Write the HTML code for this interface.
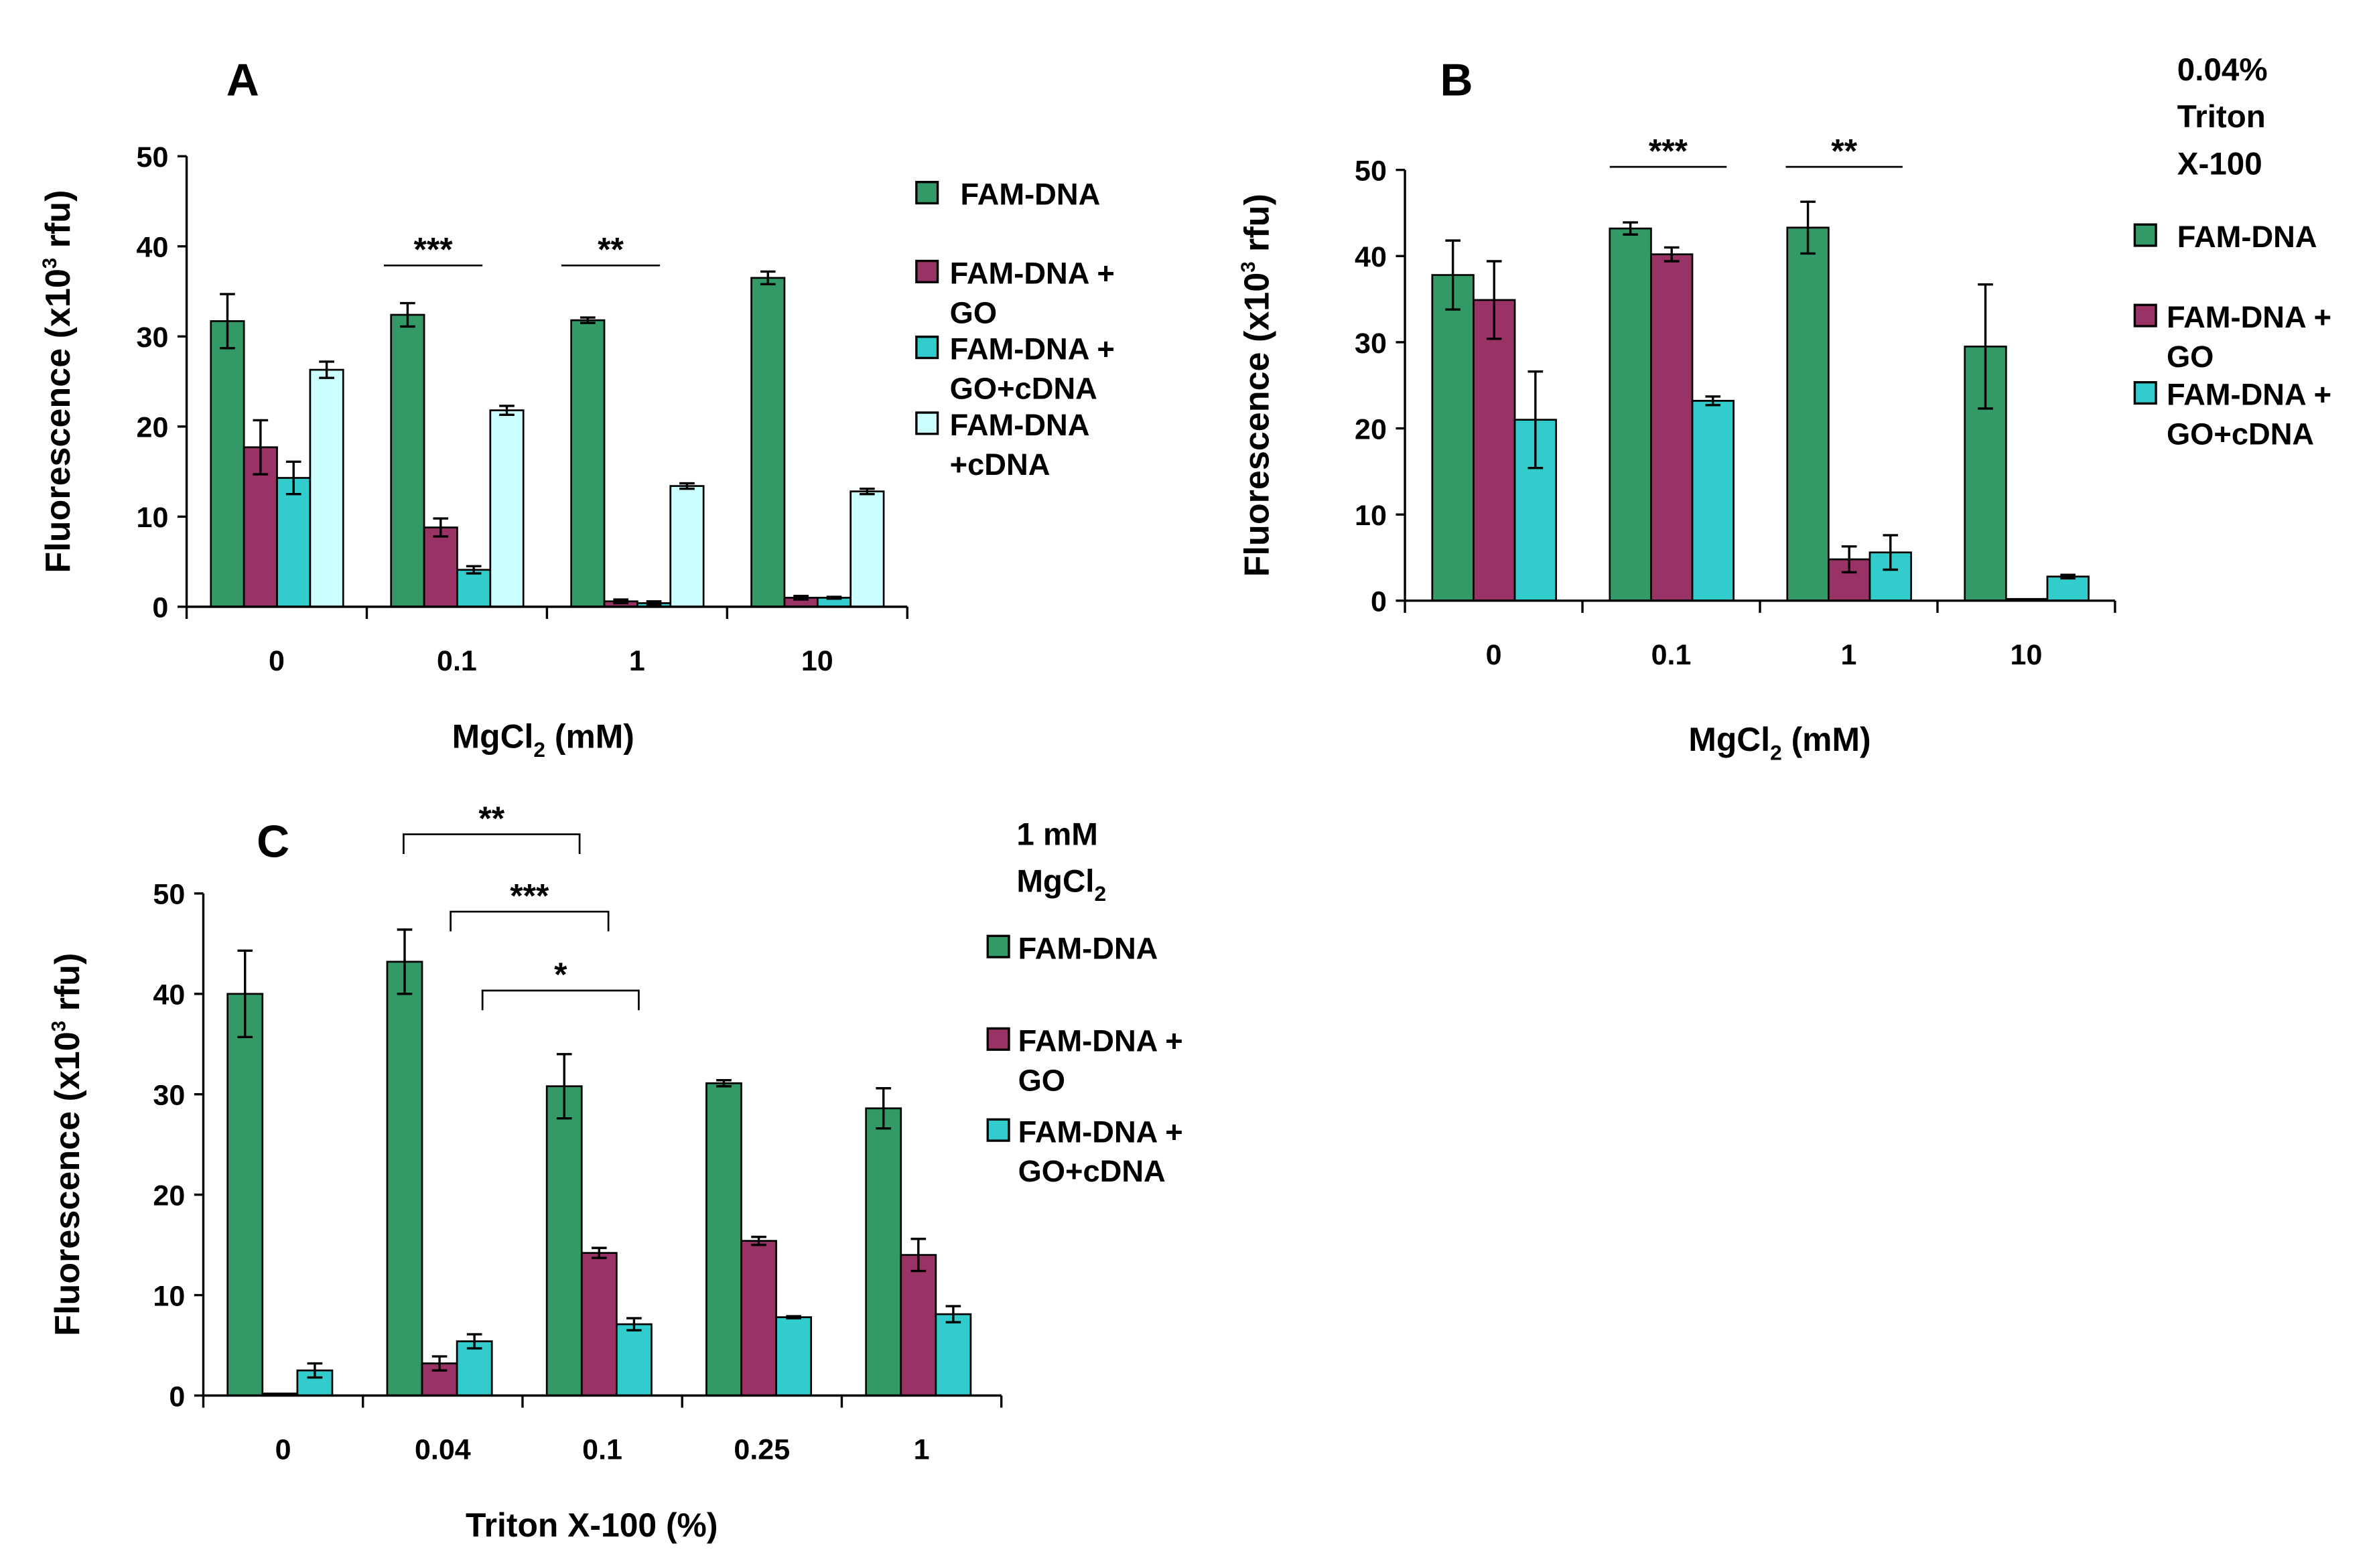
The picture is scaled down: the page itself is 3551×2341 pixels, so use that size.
<!DOCTYPE html>
<html><head><meta charset="utf-8"><style>
html,body{margin:0;padding:0;background:#fff;}
svg{display:block;font-family:"Liberation Sans",Arial,sans-serif;font-weight:bold;}
</style></head><body>
<svg id="fig" width="3551" height="2341" viewBox="0 0 1568 1033.7" preserveAspectRatio="none" xmlns="http://www.w3.org/2000/svg">
<rect x="0" y="0" width="1568" height="1034" fill="#fff"/>
<g id="chartA"></g>
<g id="chartB"></g>
<g id="chartC"></g>
</svg>
<script>
// Panel A data
const catsA = ["0","0.1","1","10"];
const aFam = [31.7,32.4,31.8,36.5];
const aFamErr = [3.0,1.3,0.3,0.7];
const aGO = [17.7,8.8,0.6,1.0];
const aGOErr = [3.0,1.0,0.2,0.2];
const aGOc = [14.3,4.1,0.4,1.0];
const aGOcErr = [1.8,0.4,0.2,0.1];
const aC = [26.3,21.8,13.4,12.8];
const aCErr = [0.9,0.5,0.3,0.3];
// Panel B data
const catsB = ["0","0.1","1","10"];
const bFam = [37.8,43.2,43.3,29.5];
const bFamErr = [4.0,0.7,3.0,7.2];
const bGO = [34.9,40.2,4.8,0.2];
const bGOErr = [4.5,0.8,1.5,0];
const bGOc = [21.0,23.2,5.6,2.8];
const bGOcErr = [5.6,0.5,2.0,0.2];
// Panel C data
const catsC = ["0","0.04","0.1","0.25","1"];
const cFam = [40.0,43.2,30.8,31.1,28.6];
const cFamErr = [4.3,3.2,3.2,0.3,2.0];
const cGO = [0.2,3.2,14.2,15.4,14.0];
const cGOErr = [0,0.7,0.5,0.4,1.6];
const cGOc = [2.5,5.4,7.1,7.8,8.1];
const cGOcErr = [0.7,0.7,0.6,0.1,0.8];
const yTicks = [0,10,20,30,40,50];

const NS="http://www.w3.org/2000/svg";
function mk(parent,tag,attrs,text){
  const e=document.createElementNS(NS,tag);
  for(const k in attrs) e.setAttribute(k,attrs[k]);
  if(text!==undefined) e.textContent=text;
  parent.appendChild(e); return e;
}
const COLORS=["#339966","#993366","#33CCCC","#CCFFFF"];
const SER_NAMES=["fam-dna","fam-dna-go","fam-dna-go-cdna","fam-dna-cdna"];

function panel(g,cfg){
  const {x0,x1,y0,y50,cats,series,errs,barW,pad}=cfg;
  const ys=v=>y0-(v/50)*(y0-y50);
  const catW=(x1-x0)/cats.length;
  const xb=(i,s)=>x0+i*catW+pad+s*barW;
  series.forEach((arr,s)=>{
    arr.forEach((v,i)=>{
      const r=mk(g,"rect",{x:xb(i,s),y:ys(v),width:barW,height:y0-ys(v),fill:COLORS[s],stroke:"#000","stroke-width":1.2});
      
      
      const e=errs[s][i];
      if(e>0){
        const cx=xb(i,s)+barW/2;
        const eb=mk(g,"path",{d:`M${cx},${ys(v+e)}V${ys(v-e)}M${cx-5},${ys(v+e)}h10M${cx-5},${ys(v-e)}h10`,stroke:"#000","stroke-width":1.5,fill:"none"});
        
        
      }
    });
  });
  const ax=mk(g,"path",{d:`M${x0},${y50}V${y0}H${x1}`,stroke:"#000","stroke-width":1.5,fill:"none"});
  
  
  yTicks.forEach(t=>{
    mk(g,"line",{x1:x0-6,x2:x0,y1:ys(t),y2:ys(t),stroke:"#000","stroke-width":1.5});
    const tl=mk(g,"text",{x:x0-12,y:ys(t)+7,"text-anchor":"end","font-size":19},String(t));
    
    
  });
  for(let i=0;i<=cats.length;i++){
    mk(g,"line",{x1:x0+i*catW,x2:x0+i*catW,y1:y0,y2:y0+8,stroke:"#000","stroke-width":1.5});
  }
  cats.forEach((c,i)=>{
    const tl=mk(g,"text",{x:x0+(i+0.5)*catW,y:y0+42,"text-anchor":"middle","font-size":19},c);
    
    
  });
  const cy=(y0+y50)/2;
  const yt=mk(g,"text",{x:0,y:0,"text-anchor":"middle","font-size":23,transform:`translate(${cfg.ytx},${cy}) rotate(-90)`});
  yt.innerHTML='Fluorescence (x10<tspan dy="-9" font-size="13">3</tspan><tspan dy="9"> rfu)</tspan>';
  
  
  const xt=mk(g,"text",{x:cfg.xtx,y:cfg.xty,"text-anchor":"middle","font-size":22});
  xt.innerHTML=cfg.xtitle;
  
  
  const lt=mk(g,"text",{x:cfg.letter[0],y:cfg.letter[1],"font-size":30,"text-anchor":"middle"},cfg.letter[2]);
  
  
  cfg.legend.forEach((L,s)=>{
    const lg=mk(g,"g",{});
    
    
    mk(lg,"rect",{x:cfg.lx,y:L.y-8,width:14,height:14,fill:COLORS[s],stroke:"#000","stroke-width":1.5});
    L.lines.forEach((t,k)=>mk(lg,"text",{x:cfg.ltx+((L.lines.length===1)?(cfg.lfirst||0):0),y:L.y+7+k*26,"font-size":20},t));
  });
  cfg.sig.forEach(S=>{
    const sg=mk(g,"g",{});
    
    
    const d=S.bracket?`M${S.a},${S.y+13}V${S.y}H${S.b}V${S.y+13}`:`M${S.a},${S.y}H${S.b}`;
    mk(sg,"path",{d,stroke:"#000","stroke-width":1.2,fill:"none"});
    mk(sg,"text",{x:(S.a+S.b)/2,y:S.y-3,"text-anchor":"middle","font-size":22},S.t);
  });
}

panel(document.getElementById("chartA"),{
  x0:123,x1:598,y0:400,y50:103,cats:catsA,barW:21.8,pad:16,
  series:[aFam,aGO,aGOc,aC],errs:[aFamErr,aGOErr,aGOcErr,aCErr],
  ytx:46,xtx:358,xty:493,xtitle:'MgCl<tspan font-size="14" dy="6">2</tspan><tspan dy="-6"> (mM)</tspan>',
  letter:[160,63,"A"],lx:604,ltx:626,lfirst:7,
  legend:[{y:128,lines:["FAM-DNA"]},{y:180,lines:["FAM-DNA +","GO"]},{y:230,lines:["FAM-DNA +","GO+cDNA"]},{y:280,lines:["FAM-DNA","+cDNA"]}],
  sig:[{a:253,b:318,y:175,t:"***"},{a:370,b:435,y:175,t:"**"}]
});
panel(document.getElementById("chartB"),{
  x0:926,x1:1394,y0:396,y50:112,cats:catsB,barW:27.2,pad:18,
  series:[bFam,bGO,bGOc],errs:[bFamErr,bGOErr,bGOcErr],
  ytx:836,xtx:1173,xty:495,xtitle:'MgCl<tspan font-size="14" dy="6">2</tspan><tspan dy="-6"> (mM)</tspan>',
  letter:[960,63,"B"],lx:1407,ltx:1428,lfirst:7,
  legend:[{y:156,lines:["FAM-DNA"]},{y:209,lines:["FAM-DNA +","GO"]},{y:260,lines:["FAM-DNA +","GO+cDNA"]}],
  sig:[{a:1061,b:1138,y:110,t:"***"},{a:1177,b:1254,y:110,t:"**"}]
});
panel(document.getElementById("chartC"),{
  x0:134,x1:660,y0:920,y50:589,cats:catsC,barW:23,pad:16,
  series:[cFam,cGO,cGOc],errs:[cFamErr,cGOErr,cGOcErr],
  ytx:52,xtx:390,xty:1013,xtitle:'Triton X-100 (%)',
  letter:[180,565,"C"],lx:651,ltx:671,
  legend:[{y:625,lines:["FAM-DNA"]},{y:686,lines:["FAM-DNA +","GO"]},{y:746,lines:["FAM-DNA +","GO+cDNA"]}],
  sig:[{a:266,b:382,y:550,t:"**",bracket:true},{a:297,b:401,y:601,t:"***",bracket:true},{a:318,b:421,y:653,t:"*",bracket:true}]
});
const fig=document.getElementById("fig");
const ann=[["0.04%",1435,53],["Triton",1435,84],["X-100",1435,115]];
ann.forEach(a=>{
  const t=mk(fig,"text",{x:a[1],y:a[2],"font-size":21},a[0]);
  
  
});
const c1=mk(fig,"text",{x:670,y:557,"font-size":21},"1 mM");


const c2=mk(fig,"text",{x:670,y:588,"font-size":21});
c2.innerHTML='MgCl<tspan font-size="14" dy="6">2</tspan>';


</script>
</body></html>
